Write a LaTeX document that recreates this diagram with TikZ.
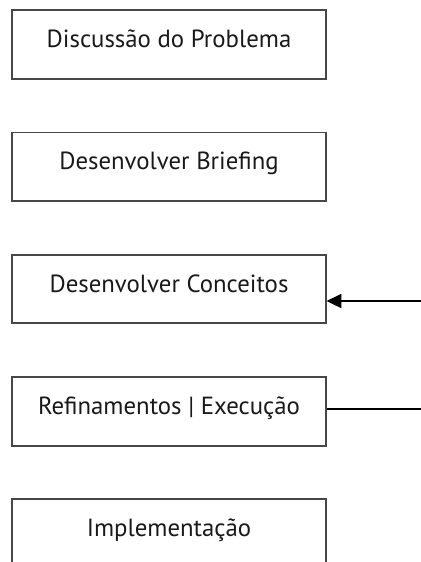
\documentclass[tikz,border=0pt]{standalone}
\usepackage{fontspec}
\setmainfont{PT Sans}
\usetikzlibrary{arrows.meta}
\begin{document}
\begin{tikzpicture}[x=0.75pt,y=-0.75pt,
  stepbox/.style={draw=black!72,line width=1.3pt,rectangle,minimum width=313.5*0.75pt,minimum height=68.5*0.75pt,inner sep=0pt,
    text height=8pt,text depth=3.2pt,font=\fontsize{18.6}{22}\selectfont,text=black!90},
  conn/.style={line width=1.3pt,black}]
\useasboundingbox (0,0) rectangle (421,562);
\clip (0,0) rectangle (421,562);
\node[stepbox] (b1) at (169,44.5) {Discussão do Problema};
\node[stepbox] (b2) at (169,166.7) {Desenvolver Briefing};
\node[stepbox] (b3) at (169,289) {Desenvolver Conceitos};
\node[stepbox] (b4) at (169,411.5) {Refinamentos | Execução};
\node[stepbox] (b5) at (169,533.5) {Implementação};
\coordinate (a3) at (422,301);
\coordinate (a4) at (422,409);
\draw[conn,-{Triangle[length=11pt,width=10.5pt]}] (a3) -- (a3 -| b3.east);
\draw[conn] (b4.east |- a4) -- (a4);
\end{tikzpicture}
\end{document}
